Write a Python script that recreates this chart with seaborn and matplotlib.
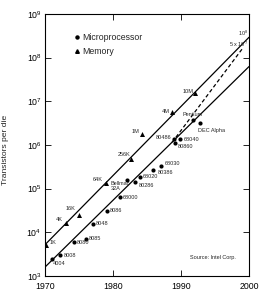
import matplotlib
matplotlib.use("Agg")
import matplotlib.pyplot as plt
import seaborn as sns
from matplotlib.lines import Line2D

# ---- data ----
mem_names = ["1K", "4K", "16K", "64K", "256K", "1M", "4M", "10M"]
mem_years = [1970.1, 1973.1, 1975.0, 1979.0, 1982.7, 1984.3, 1988.7, 1992.1]
mem_counts = [5.2e3, 1.66e4, 2.5e4, 1.36e5, 4.8e5, 1.8e6, 5.6e6, 1.55e7]

cpu_names = ["4004", "8008", "8080", "8085", "8048", "8086", "68000",
             "Bellmac-\n32A", "80286", "68020", "80386", "68030",
             "80486", "80860", "68040", "Pentium", "DEC Alpha"]
cpu_years = [1971.1, 1972.25, 1974.2, 1976.0, 1977.0, 1979.1, 1981.0,
             1982.0, 1983.2, 1984.0, 1985.9, 1987.0,
             1989.0, 1989.1, 1989.9, 1991.7, 1992.8]
cpu_counts = [2.4e3, 3.0e3, 5.9e3, 7.2e3, 1.58e4, 3.1e4, 6.3e4,
              1.58e5, 1.41e5, 1.86e5, 2.63e5, 3.31e5,
              1.4e6, 1.1e6, 1.34e6, 3.8e6, 3.2e6]

mem_trend_years = [1970, 2000]
mem_trend_counts = [5.2e3, 2.9e8]
cpu_trend_years = [1970, 2000]
cpu_trend_counts = [1.6e3, 6.2e7]
proj_years = [1988.7, 1999.1]
proj_counts = [1.15e6, 1.65e8]

x_ticks = [1970, 1980, 1990, 2000]
y_ticks = [1e3, 1e4, 1e5, 1e6, 1e7, 1e8, 1e9]

# ---- layout (label offsets in pixels, alignment) ----
mem_off = [(4, 2, "left"), (-3, 3, "right"), (-4, 6, "right"), (-3, 3, "right"),
           (-1, 4, "right"), (-3, 2, "right"), (-2, 1, "right"), (-2, 1, "right")]
cpu_off = [(0, -4, "left"), (3, 0, "left"), (3, 0, "left"), (3, 0, "left"),
           (3, 0, "left"), (3, 0, "left"), (3, 0, "left"),
           (-16, -6, "left"), (4, -3, "left"), (3, 0, "left"), (5, -2, "left"),
           (4, 2, "left"), (-3, 1, "right"), (3, -3, "left"), (3, 0, "left"),
           (0, 5, "center"), (-2, -8, "left")]

sns.set_style("ticks")
plt.rcParams["font.family"] = ["Liberation Sans", "DejaVu Sans"]
plt.rcParams["mathtext.fontset"] = "custom"
plt.rcParams["mathtext.rm"] = "Liberation Sans"

fig = plt.figure(figsize=(2.62, 2.95), dpi=100)
ax = fig.add_axes([45 / 262, 1 - 276 / 295, 204 / 262, 262.2 / 295])
ax.set_yscale("log")

sns.lineplot(x=mem_trend_years, y=mem_trend_counts, color="black", lw=0.9, ax=ax)
sns.lineplot(x=cpu_trend_years, y=cpu_trend_counts, color="black", lw=0.9, ax=ax)
sns.lineplot(x=proj_years, y=proj_counts, color="black", lw=0.9, ax=ax,
             linestyle=(0, (3, 2)))

sns.scatterplot(x=cpu_years, y=cpu_counts, marker="o", s=9, color="black",
                edgecolor="black", linewidth=0, ax=ax, zorder=3)
sns.scatterplot(x=mem_years, y=mem_counts, marker="^", s=13, color="black",
                edgecolor="black", linewidth=0, ax=ax, zorder=3)

lab_fs = 4.0
for n, xv, yv, (dx, dy, ha) in zip(mem_names, mem_years, mem_counts, mem_off):
    ax.annotate(n, (xv, yv), xytext=(dx, dy), textcoords="offset pixels",
                ha=ha, va="center", fontsize=lab_fs)
for n, xv, yv, (dx, dy, ha) in zip(cpu_names, cpu_years, cpu_counts, cpu_off):
    ax.annotate(n, (xv, yv), xytext=(dx, dy), textcoords="offset pixels",
                ha=ha, va="center", fontsize=lab_fs, linespacing=1.0)

ax.text(1999.85, 3.6e8, "10$^8$", ha="right", va="center", fontsize=4.0)
ax.text(1999.85, 2.0e8, "5 x 10$^7$", ha="right", va="center", fontsize=4.0)
ax.text(0.936, 0.07, "Source: Intel Corp.", transform=ax.transAxes,
        ha="right", va="center", fontsize=lab_fs)

ax.set_xlim(1970, 2000)
ax.set_ylim(1e3, 1e9)
ax.set_xticks(x_ticks)
ax.set_xticklabels([str(t) for t in x_ticks])
ax.set_yticks(y_ticks)
ax.minorticks_off()
ax.tick_params(direction="in", top=True, right=True, length=4, width=0.6,
               labelsize=6.3, colors="black")
ax.tick_params(axis="x", pad=4)
ax.tick_params(axis="y", pad=2.5)
for sp in ax.spines.values():
    sp.set_linewidth(0.8)
    sp.set_color("black")

ax.set_ylabel("Transistors per die", fontsize=6.1)
ax.yaxis.set_label_coords(-0.175, 0.48)
ax.set_xlabel("")

handles = [Line2D([], [], marker="o", color="black", linestyle="none", markersize=2.2),
           Line2D([], [], marker="^", color="black", linestyle="none", markersize=2.6)]
ax.legend(handles, ["Microprocessor", "Memory"], loc="upper left",
          bbox_to_anchor=(0.12, 0.945), frameon=False, fontsize=6.3,
          handlelength=0.7, handletextpad=0.3, labelspacing=0.65, borderpad=0)

fig.savefig("out.png", dpi=100)
